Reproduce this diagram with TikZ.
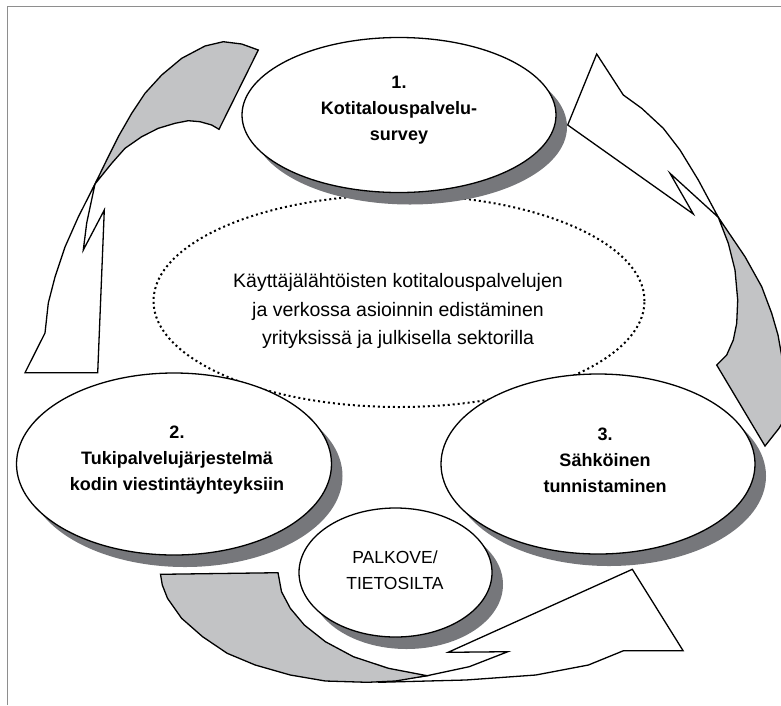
\documentclass[tikz,border=0pt]{standalone}
\usepackage{fontspec}
\setmainfont{Liberation Sans}
\usepackage{tikz}
\usetikzlibrary{positioning, shapes.geometric, shadows}
\definecolor{shadowgray}{HTML}{76777B}
\definecolor{ribbongray}{HTML}{C2C3C5}
\definecolor{framegray}{HTML}{8E8E8E}
\tikzset{
  bubble/.style    = {ellipse, draw=black, line width=1.3pt, fill=white,
                      drop shadow={shadow xshift=11pt, shadow yshift=-12pt,
                      fill=shadowgray, opacity=1}},
  goal/.style      = {ellipse, draw=black, line width=2pt,
                      dash pattern=on 2pt off 3pt},
  ribbon/.style    = {draw=black, line width=1.3pt, fill=white, line join=miter},
  ribbonback/.style= {ribbon, fill=ribbongray},
  title/.style     = {font=\bfseries\fontsize{18}{26}\selectfont, align=center},
  maintext/.style  = {font=\fontsize{19.5}{28.5}\selectfont, align=center},
  bridgetext/.style= {font=\fontsize{17.5}{26}\selectfont, align=center},
}

\begin{document}
\begin{tikzpicture}[x=1pt, y=-1pt]
  \useasboundingbox (0,0) rectangle (781,705);
  \draw[framegray, line width=1.5pt] (7.5,705) -- (7.5,6.5) -- (781,6.5);

  % ----- goal in the middle -----
  \node[goal, minimum width=491pt, minimum height=212pt] (goal) at (399,301) {};

  % ----- the four bubbles -----
  \node[bubble, minimum width=314pt, minimum height=155pt] (survey) at (399,115) {};
  \node[bubble, minimum width=315pt, minimum height=182pt] (support) at (174,464) {};
  \node[bubble, minimum width=314pt, minimum height=180pt] (eid) at (598,464) {};
  \node[bubble, minimum width=193pt, minimum height=129pt] (bridge) at (395.5,572.5) {};

  % ----- curved ribbons -----
  % top left
  \filldraw[ribbon] (25,372.7) -- (45,333) -- (48.3,303) -- (55,277) -- (65,247)
    -- (78.3,217) -- (95,184) -- (86.7,223) -- (83.3,250) -- (104.3,210)
    -- (97.7,372.7) -- cycle;
  \filldraw[ribbonback] (95,184) -- (106.7,160) -- (118.3,136.7) -- (131.7,113.3)
    -- (145,93.3) -- (161.7,75) -- (181.7,58.3) -- (205,46) -- (223.3,41.7)
    -- (241.7,44) -- (258.3,50) -- (219,129.3) -- (211.7,125) -- (200,121.7)
    -- (188.3,120.7) -- (175,123.3) -- (158.3,128.3) -- (141.7,136.7)
    -- (125,148.3) -- (111.7,163.3) -- cycle;
  % top right
  \filldraw[ribbon] (596.7,54) -- (623.3,95) -- (641.7,108.3) -- (663.3,128.3)
    -- (680,150) -- (698.3,180) -- (718.3,217.3) -- (670,173.3) -- (693.3,214)
    -- (567.7,125) -- cycle;
  \filldraw[ribbonback] (718.3,217.3) -- (745,256.7) -- (761.7,286.7)
    -- (771.7,313.3) -- (778,335) -- (786,380) -- (784,420) -- (779,428.3)
    -- (765,446) -- (716.7,365) -- (726.7,355) -- (733.3,340) -- (736.7,323.3)
    -- (737.7,300) -- (735,270) -- (728.3,243.3) -- cycle;
  % bottom
  \filldraw[ribbon] (632.3,569.3) -- (448.1,652.3) -- (507.8,651.7) -- (469.2,666.7)
    -- (427.1,675.7) -- (378,682.3) -- (465.7,680) -- (535.8,675) -- (588.4,665)
    -- (623.5,650.7) -- (683.1,650.7) -- cycle;
  \filldraw[ribbonback] (160.5,574.3) -- (278,572.7) -- (281.5,591.7) -- (290.3,608.3)
    -- (304.3,625) -- (325.4,641.7) -- (353.4,656.7) -- (388.5,668.3)
    -- (427.1,675.7) -- (395.5,681) -- (367.5,682.3) -- (325.4,681) -- (290.3,675)
    -- (255.2,665) -- (227.2,653.3) -- (202.6,636.7) -- (181.6,618.3)
    -- (167.5,598.3) -- (162.3,585) -- cycle;

  % ----- texts -----
  \node[maintext] (goaltxt) at (398,311)
    {Käyttäjälähtöisten kotitalouspalvelujen\\ja verkossa asioinnin edistäminen\\yrityksissä ja julkisella sektorilla};
  \node[title] (surveytxt) at (399,110) {1.\\Kotitalouspalvelu-\\survey};
  \node[title] (supporttxt) at (177,460) {2.\\Tukipalvelujärjestelmä\\kodin viestintäyhteyksiin};
  \node[title] (eidtxt) at (605,460) {3.\\Sähköinen\\tunnistaminen};
  \node[bridgetext] (bridgetxt) at (395,570) {PALKOVE/\\TIETOSILTA};

\end{tikzpicture}
\end{document}
